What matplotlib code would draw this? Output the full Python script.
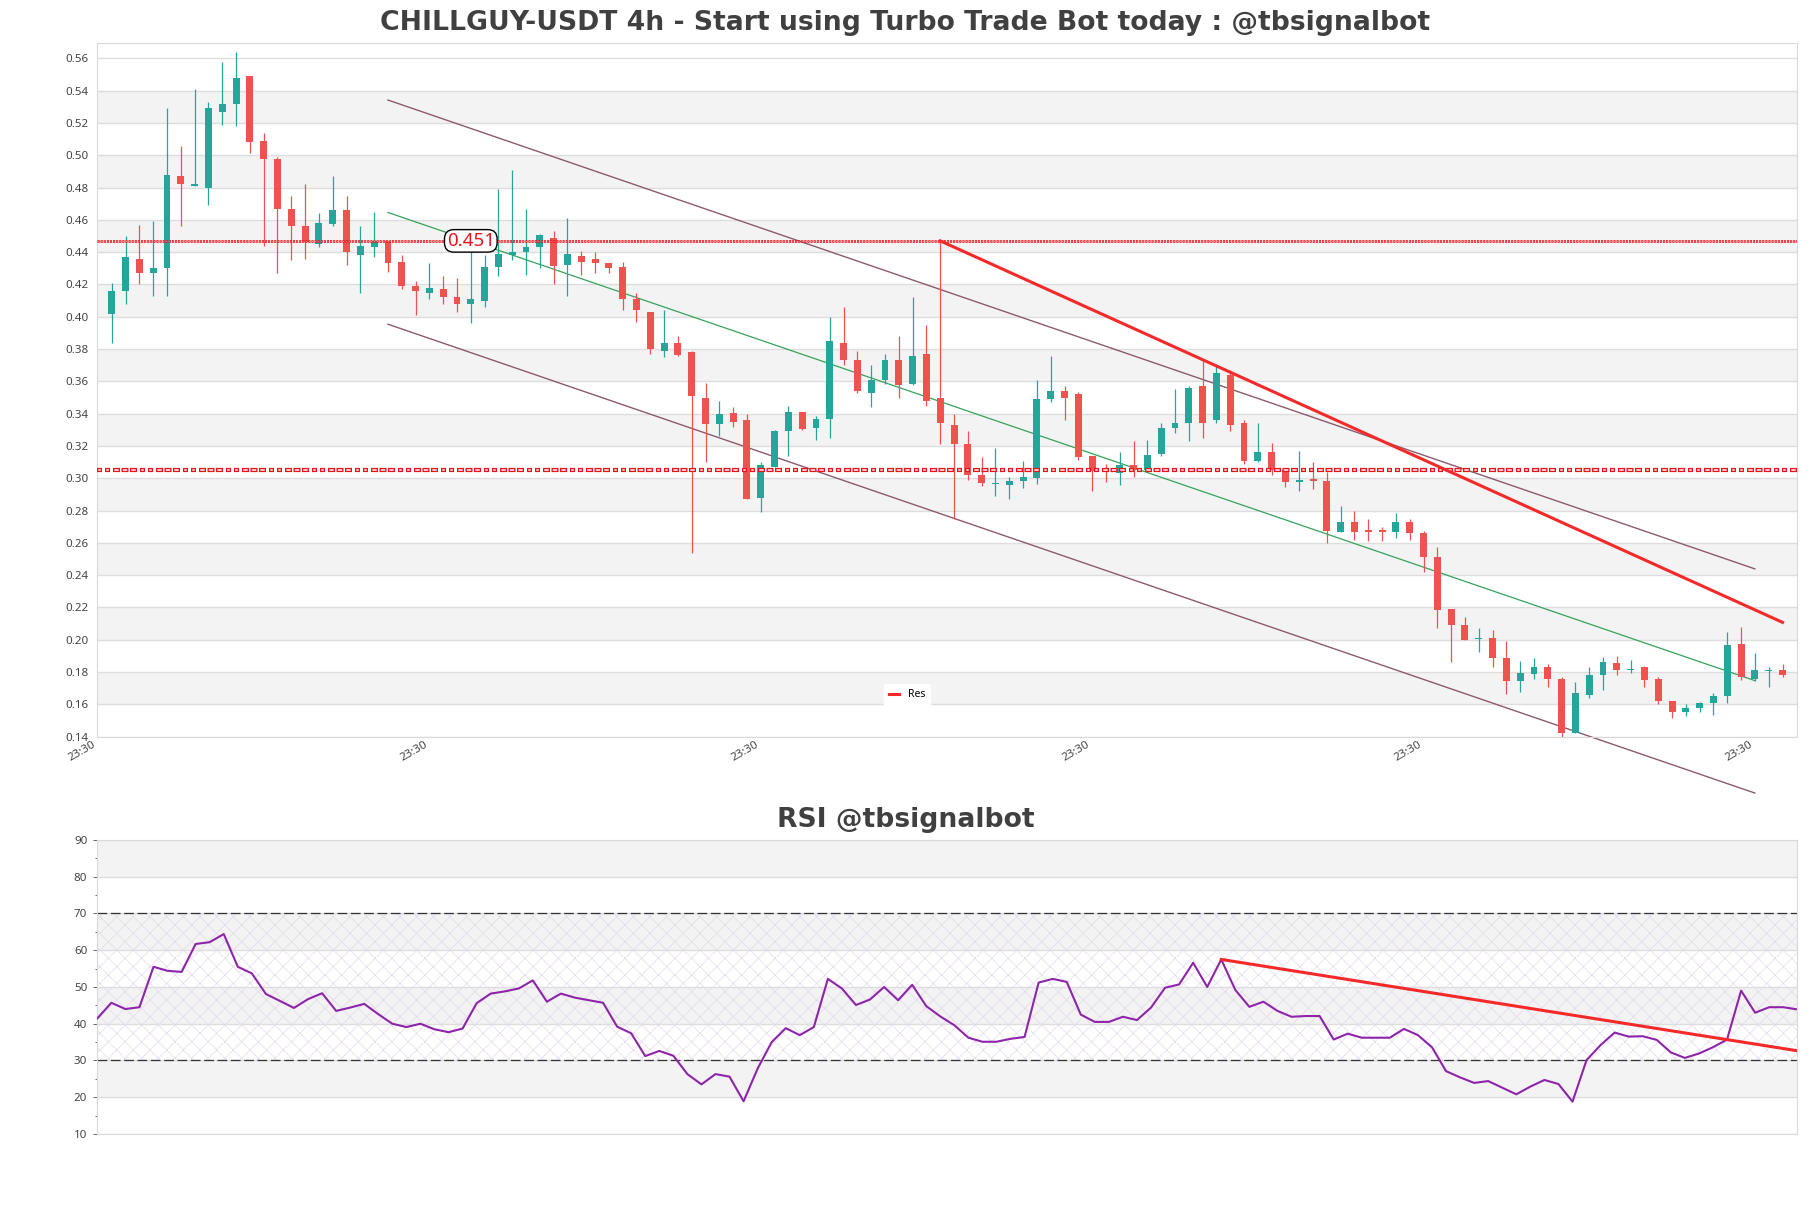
import matplotlib
matplotlib.use("Agg")
import matplotlib.pyplot as plt
from matplotlib.ticker import MultipleLocator, FixedLocator, FormatStrFormatter
import numpy as np

plt.rcParams["lines.scale_dashes"] = False
plt.rcParams["hatch.linewidth"] = 0.5

# 4h candles (oldest first)
opens = [0.402, 0.416, 0.436, 0.427, 0.430, 0.487, 0.481, 0.480, 0.527, 0.532,
         0.549, 0.509, 0.498, 0.467, 0.456, 0.445, 0.4575, 0.466, 0.438, 0.443,
         0.447, 0.434, 0.419, 0.415, 0.4175, 0.412, 0.408, 0.410, 0.431, 0.438,
         0.440, 0.443, 0.449, 0.432, 0.4375, 0.436, 0.433, 0.431, 0.411, 0.403,
         0.379, 0.384, 0.378, 0.350, 0.3335, 0.3406, 0.336, 0.288, 0.307, 0.329,
         0.341, 0.331, 0.337, 0.384, 0.373, 0.353, 0.361, 0.373, 0.3586, 0.377,
         0.350, 0.333, 0.321, 0.302, 0.2965, 0.296, 0.2986, 0.300, 0.349, 0.354,
         0.352, 0.3135, 0.3055, 0.303, 0.308, 0.305, 0.315, 0.331, 0.334, 0.357,
         0.336, 0.364, 0.334, 0.311, 0.316, 0.305, 0.298, 0.2993, 0.2986, 0.2666,
         0.273, 0.2675, 0.268, 0.2666, 0.273, 0.266, 0.2515, 0.219, 0.2094, 0.2005,
         0.201, 0.189, 0.1747, 0.179, 0.1834, 0.176, 0.142, 0.166, 0.178, 0.1856,
         0.181, 0.183, 0.176, 0.162, 0.155, 0.1575, 0.1606, 0.165, 0.1974, 0.176,
         0.1807, 0.181]
highs = [0.421, 0.450, 0.457, 0.459, 0.529, 0.506, 0.541, 0.533, 0.5575, 0.564,
         0.549, 0.514, 0.499, 0.475, 0.482, 0.464, 0.487, 0.475, 0.456, 0.465,
         0.447, 0.438, 0.422, 0.433, 0.425, 0.424, 0.442, 0.4385, 0.479, 0.491,
         0.467, 0.451, 0.453, 0.461, 0.441, 0.440, 0.433, 0.434, 0.415, 0.403,
         0.404, 0.388, 0.379, 0.359, 0.348, 0.344, 0.340, 0.310, 0.330, 0.345,
         0.341, 0.3385, 0.400, 0.406, 0.379, 0.370, 0.377, 0.388, 0.412, 0.395,
         0.447, 0.340, 0.329, 0.313, 0.319, 0.301, 0.311, 0.361, 0.3756, 0.357,
         0.3534, 0.3135, 0.309, 0.316, 0.323, 0.324, 0.334, 0.355, 0.357, 0.373,
         0.371, 0.367, 0.336, 0.334, 0.322, 0.3065, 0.317, 0.310, 0.304, 0.283,
         0.280, 0.2745, 0.270, 0.2786, 0.2749, 0.2676, 0.2573, 0.219, 0.214, 0.2073,
         0.2063, 0.199, 0.187, 0.1885, 0.185, 0.177, 0.174, 0.183, 0.1896, 0.190,
         0.1875, 0.184, 0.177, 0.162, 0.160, 0.1617, 0.1668, 0.205, 0.208, 0.1916,
         0.1834, 0.185]
lows = [0.384, 0.408, 0.420, 0.413, 0.413, 0.456, 0.481, 0.469, 0.519, 0.518,
        0.5015, 0.444, 0.427, 0.435, 0.436, 0.443, 0.456, 0.432, 0.415, 0.437,
        0.428, 0.417, 0.401, 0.411, 0.408, 0.403, 0.396, 0.406, 0.425, 0.435,
        0.426, 0.430, 0.420, 0.413, 0.426, 0.427, 0.427, 0.404, 0.397, 0.377,
        0.375, 0.376, 0.254, 0.310, 0.326, 0.332, 0.287, 0.279, 0.307, 0.314,
        0.330, 0.324, 0.325, 0.370, 0.353, 0.344, 0.3586, 0.350, 0.358, 0.345,
        0.321, 0.275, 0.299, 0.2955, 0.289, 0.287, 0.294, 0.2966, 0.347, 0.336,
        0.3116, 0.292, 0.2976, 0.296, 0.301, 0.305, 0.314, 0.328, 0.323, 0.325,
        0.334, 0.329, 0.309, 0.310, 0.302, 0.2945, 0.292, 0.2935, 0.260, 0.2665,
        0.262, 0.2614, 0.261, 0.263, 0.2619, 0.242, 0.207, 0.186, 0.1999, 0.1923,
        0.183, 0.1664, 0.1675, 0.176, 0.1706, 0.140, 0.142, 0.164, 0.169, 0.178,
        0.1792, 0.1706, 0.160, 0.1514, 0.1526, 0.155, 0.1534, 0.161, 0.175, 0.1747,
        0.171, 0.177]
closes = [0.416, 0.437, 0.427, 0.430, 0.488, 0.482, 0.482, 0.529, 0.532, 0.548,
          0.508, 0.498, 0.467, 0.456, 0.446, 0.458, 0.466, 0.440, 0.444, 0.447,
          0.433, 0.419, 0.416, 0.418, 0.412, 0.408, 0.411, 0.431, 0.439, 0.440,
          0.443, 0.4505, 0.4315, 0.439, 0.434, 0.433, 0.430, 0.411, 0.404, 0.380,
          0.384, 0.3766, 0.351, 0.3335, 0.340, 0.335, 0.287, 0.308, 0.329, 0.341,
          0.3305, 0.337, 0.385, 0.373, 0.354, 0.361, 0.373, 0.3576, 0.3756, 0.348,
          0.334, 0.321, 0.302, 0.297, 0.297, 0.2986, 0.3007, 0.349, 0.354, 0.350,
          0.313, 0.3044, 0.3045, 0.308, 0.305, 0.3147, 0.331, 0.334, 0.356, 0.334,
          0.365, 0.333, 0.311, 0.316, 0.305, 0.2975, 0.299, 0.2986, 0.2676, 0.273,
          0.2666, 0.267, 0.267, 0.273, 0.266, 0.251, 0.2187, 0.209, 0.200, 0.201,
          0.189, 0.1747, 0.1794, 0.183, 0.176, 0.142, 0.167, 0.178, 0.1865, 0.181,
          0.1815, 0.175, 0.162, 0.155, 0.158, 0.1606, 0.1654, 0.197, 0.1768, 0.181,
          0.181, 0.178]

rsi = [41.45, 45.7, 44.0, 44.5, 55.5, 54.4, 54.1, 61.7, 62.2, 64.4,
       55.5, 53.7, 48.1, 46.2, 44.3, 46.7, 48.3, 43.5, 44.4, 45.4,
       42.6, 40.0, 39.1, 40.0, 38.5, 37.7, 38.7, 45.6, 48.2, 48.8,
       49.6, 51.8, 46.0, 48.2, 47.1, 46.4, 45.7, 39.2, 37.4, 31.2,
       32.6, 31.3, 26.3, 23.5, 26.3, 25.6, 18.9, 27.8, 35.0, 38.8,
       36.9, 39.1, 52.2, 49.6, 45.1, 46.6, 50.0, 46.4, 50.6, 44.8,
       42.0, 39.6, 36.2, 35.1, 35.1, 35.9, 36.4, 51.2, 52.2, 51.4,
       42.5, 40.5, 40.5, 41.9, 41.0, 44.4, 49.8, 50.7, 56.6, 50.0,
       57.5, 49.2, 44.6, 46.0, 43.5, 41.9, 42.1, 42.1, 35.7, 37.3,
       36.2, 36.2, 36.2, 38.6, 36.9, 33.6, 27.1, 25.4, 23.9, 24.4,
       22.6, 20.8, 22.9, 24.7, 23.6, 18.8, 30.1, 34.2, 37.6, 36.5,
       36.6, 35.6, 32.2, 30.7, 31.9, 33.6, 35.7, 49.0, 43.0, 44.5,
       44.5, 43.9]

# drawn levels / trend lines (candle index, price)
chan_x = [20, 119]
chan_upper = [0.5342, 0.2439]
chan_mid = [0.4646, 0.1747]
chan_lower = [0.3954, 0.1051]
res_x = [60, 121]
res_y = [0.447, 0.2108]
level_top = 0.447
level_top_label = "0.451"
level_low = 0.305
rsi_trend_x = [80, 121]
rsi_trend_y = [57.5, 32.65]

time_ticks = [-1, 23, 47, 71, 95, 119]
time_labels = ["23:30"] * len(time_ticks)

UP = "#26a69a"
DOWN = "#ef5350"
TXT = "#444444"
PX = 0.72  # pixel -> points at dpi 100


def outlined_hline(ax, y, dashes_px, color, lw_px, inner_px, edge_px):
    seq = [d * PX for d in dashes_px]
    inner = []
    for i in range(0, len(dashes_px), 2):
        on, off = dashes_px[i], dashes_px[i + 1]
        inner += [max(on - 2 * edge_px, 0.3) * PX, (off + 2 * edge_px) * PX]
    period = sum(dashes_px)
    ax.axhline(y, color=color, lw=lw_px * PX, linestyle=(0, seq), zorder=5)
    ax.axhline(y, color="white", lw=inner_px * PX,
               linestyle=((period - edge_px) * PX, inner), zorder=5)


fig = plt.figure(figsize=(18.11, 12.08), dpi=100)
ax = fig.add_axes([0.05373, 0.39015, 0.93870, 0.57450])
ax2 = fig.add_axes([0.05373, 0.06126, 0.93870, 0.24338])

# ---- price panel ----
o = np.array(opens)
h = np.array(highs)
l = np.array(lows)
c = np.array(closes)
x = np.arange(len(c))
cols = np.where(c >= o, UP, DOWN)

for lo in np.arange(0.16, 0.54, 0.04):
    ax.axhspan(lo, lo + 0.02, color="#f3f3f3", lw=0, zorder=0)
ax.vlines(x, l, h, colors=cols, lw=0.9, zorder=3)
body = np.maximum(np.abs(c - o), 0.0007)
ax.bar(x, body, bottom=np.minimum(o, c), width=0.5, color=cols, lw=0, zorder=4)

ax.plot(chan_x, chan_upper, color="#8c5a70", lw=1.0, zorder=2)
ax.plot(chan_x, chan_mid, color="#35a35c", lw=0.9, zorder=2)
ax.plot(chan_x, chan_lower, color="#8c5a70", lw=1.0, zorder=2, clip_on=False)
ax.plot(res_x, res_y, color="#f42a2a", lw=2.2, zorder=6, label="Res")

outlined_hline(ax, level_top, [2.2, 0.9], "#e8141c", 2.6, 0.5, 0.6)
outlined_hline(ax, level_low, [5, 3, 5, 3, 7, 1.5, 7, 1.5, 7, 3], "#e8141c", 4.2, 1.5, 1.3)

ax.text(26, level_top, level_top_label, color="#e8141c", fontsize=13.5,
        family="Noto Sans", ha="center", va="center", zorder=8,
        bbox=dict(boxstyle="round,pad=0.12,rounding_size=0.5", fc="white",
                  ec="black", lw=1.0))

ax.set_xlim(-1.05, 122.07)
ax.set_ylim(0.14, 0.5697)
ax.yaxis.set_major_locator(MultipleLocator(0.02))
ax.yaxis.set_major_formatter(FormatStrFormatter("%.2f"))
ax.grid(axis="y", color="#dedede", lw=1.0)
ax.set_axisbelow(True)
ax.xaxis.set_major_locator(FixedLocator(time_ticks))
ax.set_xticklabels(time_labels, rotation=30, ha="right")
ax.tick_params(axis="both", length=0, labelsize=8.3, colors=TXT)
ax.tick_params(axis="y", pad=6.5)
ax.tick_params(axis="x", pad=2)
for lab in ax.get_xticklabels() + ax.get_yticklabels():
    lab.set_family("Noto Sans")
for s in ax.spines.values():
    s.set_color("#d9d9d9")

leg = ax.legend(loc="center", bbox_to_anchor=(0.5008, 0.4247),
                bbox_transform=fig.transFigure, frameon=True,
                handlelength=1.0, borderpad=0.5, handletextpad=0.8,
                prop={"family": "Noto Sans", "size": 7.5})
leg.get_frame().set_edgecolor("white")
leg.get_frame().set_facecolor("white")
leg.get_frame().set_alpha(1.0)

# ---- RSI panel ----
xr = np.arange(len(rsi))
for lo in [20, 40, 60, 80]:
    ax2.axhspan(lo, lo + 10, color="#f3f3f3", lw=0, zorder=0)
ax2.axhspan(30, 70, facecolor="none", edgecolor="#e4d9ea", hatch="xx",
            lw=0, zorder=1)
ax2.axhline(70, color="#333333", lw=0.9, linestyle=(0, (7, 2.6)), zorder=2)
ax2.axhline(30, color="#333333", lw=0.9, linestyle=(0, (7, 2.6)), zorder=2)
ax2.plot(xr, rsi, color="#8e24aa", lw=1.5, zorder=4)
ax2.plot(rsi_trend_x, rsi_trend_y, color="#f42a2a", lw=2.2, zorder=5)

ax2.set_xlim(0, len(rsi) - 1)
ax2.set_ylim(10, 90)
ax2.yaxis.set_major_locator(MultipleLocator(10))
ax2.yaxis.set_minor_locator(MultipleLocator(5))
ax2.grid(axis="y", which="major", color="#dedede", lw=1.0)
ax2.set_axisbelow(True)
ax2.set_xticks([])
ax2.tick_params(axis="y", which="major", length=3.2, width=0.7, color="#666666",
                labelsize=8.3, labelcolor=TXT, pad=4)
ax2.tick_params(axis="y", which="minor", length=1.6, width=0.7, color="#666666")
for lab in ax2.get_yticklabels():
    lab.set_family("Noto Sans")
for s in ax2.spines.values():
    s.set_color("#d9d9d9")

fig.text(0.5, 1 - 22.5 / 1208, "CHILLGUY-USDT 4h - Start using Turbo Trade Bot today : @tbsignalbot",
         ha="center", va="center", fontsize=19.2, fontweight="bold", color="#404040")
fig.text(0.5, 1 - 820 / 1208, "RSI @tbsignalbot",
         ha="center", va="center", fontsize=19.2, fontweight="bold", color="#404040")

fig.savefig("out.png", dpi=100)
